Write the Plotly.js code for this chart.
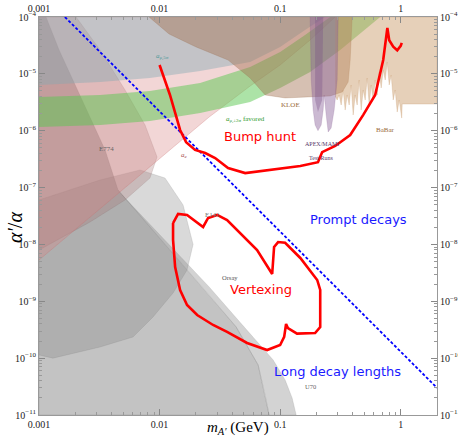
<!DOCTYPE html>
<html><head><meta charset="utf-8">
<script src="https://cdn.plot.ly/plotly-3.0.1.min.js"></script>
<style>html,body{margin:0;padding:0;background:#fff}#chart{width:458px;height:437px}</style>
</head><body><div id="chart"></div>
<script>
// ---- axis ticks ----
const xTickVals = [0.001, 0.01, 0.1, 1];
const xTickText = ['0.001', '0.01', '0.1', '1'];
const yTickVals = [1e-11, 1e-10, 1e-9, 1e-8, 1e-7, 1e-6, 1e-5, 1e-4];
const yTickText = ['10<sup>−11</sup>','10<sup>−10</sup>','10<sup>−9</sup>','10<sup>−8</sup>','10<sup>−7</sup>','10<sup>−6</sup>','10<sup>−5</sup>','10<sup>−4</sup>'];

// ---- red reach curves ----
const bumpMass  = [0.01,0.0122,0.0148,0.0166,0.0197,0.0239,0.0289,0.0370,0.0513,0.0841,0.147,0.206,0.223,0.286,0.381,0.489,0.614,0.716,0.759,0.775,0.803,0.867,0.936,1.0,1.02];
const bumpAlpha = [1.43e-5,4.25e-6,1.03e-6,6.3e-7,4.6e-7,4.05e-7,3.3e-7,2.2e-7,1.8e-7,2.04e-7,2.4e-7,2.8e-7,4.2e-7,5.4e-7,8.4e-7,1.9e-6,4.25e-6,1.75e-5,4.8e-5,6.4e-5,3.9e-5,3.0e-5,2.6e-5,3.1e-5,3.5e-5];

const vtxMass  = [0.01294,0.01424,0.0169,0.02297,0.02526,0.0300,0.0363,0.0644,0.0859,0.0891,0.0962,0.110,0.147,0.203,0.215,0.215,0.195,0.138,0.116,0.112,0.108,0.1,0.078,0.0532,0.0363,0.0278,0.0205,0.0169,0.0148,0.01346,0.01294,0.01294];
const vtxAlpha = [2.38e-8,3.43e-8,3.3e-8,2.03e-8,2.92e-8,3.3e-8,2.69e-8,7.98e-9,3.02e-9,9.0e-9,1.1e-8,1.07e-8,5.78e-9,2.37e-9,1.58e-9,3.53e-10,2.77e-10,2.7e-10,3.39e-10,3.99e-10,2.36e-10,1.70e-10,1.39e-10,1.85e-10,2.89e-10,3.83e-10,5.74e-10,8.6e-10,1.58e-9,4.0e-9,1.2e-8,2.38e-8];

// ---- prompt / long-lived boundary ----
const promptMass  = [0.00164, 2.0];
const promptAlpha = [1e-4, 3.0e-11];

// ---- excluded regions ----
const e137Mass  = [0.001143,0.001466,0.002275,0.00353,0.00452,0.02576,0.0432,0.0657,0.0751,0.0810,0.001,0.001];
const e137Alpha = [1e-4,2.63e-5,3.47e-6,4.58e-7,9.07e-8,1.29e-9,3.53e-10,7.58e-11,2.25e-11,1e-11,1e-11,1e-4];

const u70Mass  = [0.00489,0.02576,0.0503,0.0875,0.110,0.1257,0.1358,0.0810,0.0751,0.0657,0.0432,0.02576,0.00452];
const u70Alpha = [7.4e-8,1.79e-9,3.53e-10,9.29e-11,4.13e-11,2.0e-11,1e-11,1e-11,2.25e-11,7.58e-11,3.53e-10,1.29e-9,9.07e-8];

const e141Mass  = [0.001,0.00321,0.00689,0.0111,0.01567,0.01897,0.0169,0.01294,0.00883,0.00603,0.00321,0.001306,0.001];
const e141Alpha = [6.05e-8,1.36e-7,2.04e-7,1.47e-7,4.94e-8,1e-8,3.55e-9,1.4e-9,5.3e-10,2.36e-10,1.57e-10,1e-10,1.14e-10];

const e774Mass  = [0.00203,0.00321,0.00517,0.00758,0.00953,0.00832,0.00517,0.00265,0.001,0.001];
const e774Alpha = [1e-4,2.63e-5,5.2e-6,1.26e-6,3.45e-7,1.47e-7,6.05e-8,2.48e-8,7.98e-9,1e-4];

const aeMass  = [0.001,0.02576,0.0564,0.1,0.1774,0.286,0.001];
const aeAlpha = [5.33e-9,1.74e-6,6.1e-6,1.43e-5,3.94e-5,1e-4,1e-4];

const amu5Mass  = [0.001,0.00321,0.00832,0.0217,0.0564,0.1,0.161,0.236,0.001];
const amu5Alpha = [6.37e-6,7.19e-6,8.45e-6,1.12e-5,1.62e-5,2.97e-5,5.9e-5,1e-4,1e-4];

const amuFavMass  = [0.001,0.00321,0.00832,0.0217,0.0564,0.1,0.161,0.236,0.26,0.676,0.315,0.1774,0.1,0.0564,0.0217,0.00832,0.00321,0.001];
const amuFavAlpha = [3.92e-6,4.25e-6,5.0e-6,6.9e-6,1.32e-5,2.42e-5,4.83e-5,8.85e-5,1e-4,1e-4,2.63e-5,1.08e-5,5.64e-6,3.2e-6,2.05e-6,1.48e-6,1.26e-6,1.16e-6];

const kloeMass  = [0.00818,0.0120,0.0201,0.0370,0.0564,0.0751,0.110,0.1613,0.260,0.327,0.3666,0.381,0.3958];
const kloeAlpha = [1e-4,5.02e-5,2.97e-5,1.75e-5,8.45e-6,4.25e-6,3.77e-6,3.92e-6,4.08e-6,4.8e-6,7.19e-6,1.75e-5,1e-4];

const babarMass  = [0.2861,2.0,2.0,1.029,1.0193,0.9718,0.9354,0.9004,0.8666,0.8341,0.8028,0.7727,0.7438,0.7159,0.6890,0.6632,0.6383,0.6143,0.5912,0.5691,0.5477,0.5272,0.5074,0.4884,0.4701,0.4524,0.4355,0.4191,0.4034,0.3883,0.3737,0.3597,0.3463,0.3333,0.3208,0.3087,0.2972,0.2861];
const babarAlpha = [1e-4,1e-4,2.95e-6,2.95e-6,1.67e-6,3.47e-6,2.13e-6,5.2e-6,3.47e-6,9.55e-6,6.37e-6,1.62e-5,7.8e-6,1.17e-5,5.64e-6,1.08e-5,4.25e-6,7.8e-6,3.47e-6,6.37e-6,2.83e-6,8.45e-6,3.47e-6,5.2e-6,2.31e-6,7.8e-6,2.83e-6,4.25e-6,1.89e-6,6.37e-6,2.83e-6,4.25e-6,2.31e-6,5.2e-6,2.83e-6,4.25e-6,3.47e-6,4.08e-6];

const mamiMass  = [0.1774,0.181,0.1878,0.195,0.206,0.219,0.2275,0.232,0.2409,0.2503,0.265,0.2807,0.2972,0.3030];
const mamiAlpha = [1e-4,7.8e-6,2.31e-6,1.26e-6,1.0e-6,1.26e-6,2.31e-6,4.25e-6,1.89e-6,9.5e-7,1.12e-6,2.31e-6,7.8e-6,1e-4];

const apexMass  = [0.195,0.195,0.206,0.223,0.2275];
const apexAlpha = [1e-4,3.47e-6,2.13e-6,3.47e-6,1e-4];

// ---- labels ----
const labelText = ['Bump hunt','Vertexing','Prompt decays','Long decay lengths'];
const labelMass = [0.0683, 0.0695, 0.444, 0.297];
const labelAlpha = [7.8e-7, 1.64e-9, 2.69e-8, 5.94e-11];
const labelColor = ['#ff0000','#ff0000','#1a1aff','#1a1aff'];

const tagText  = ['<i>a</i><sub>μ,5σ</sub>','<i>a</i><sub>μ,±2σ</sub> favored','<i>a<sub>e</sub></i>','E774','E141','Orsay','U70','KLOE','BaBar','APEX/MAMI','Test Runs'];
const tagMass  = [0.0105, 0.0513, 0.0160, 0.00366, 0.0273, 0.0385, 0.1774, 0.121, 0.743, 0.223, 0.219];
const tagAlpha = [1.98e-5, 1.55e-6, 3.74e-7, 4.78e-7, 3.3e-8, 2.67e-9, 3.11e-11, 2.83e-6, 1.03e-6, 5.83e-7, 3.31e-7];
const tagColor = ['#4f9a9a','#2f9a2f','#a85050','#666','#777','#555','#666','#9a6a3a','#9a6a3a','#5a3a6a','#5a3a6a'];
const tagSize  = [7, 7, 7, 7, 7, 6.5, 6.5, 7, 7, 6, 6];

function region(xs, ys, fill, edge) {
  return {x: xs, y: ys, type: 'scatter', mode: 'lines', fill: 'toself', fillcolor: fill,
          line: {color: edge || 'rgba(0,0,0,0)', width: 0.6}, hoverinfo: 'skip', showlegend: false};
}

const traces = [
  region(e137Mass, e137Alpha, 'rgba(145,145,145,0.55)', 'rgba(120,120,120,0.4)'),
  region(u70Mass, u70Alpha, 'rgba(150,150,150,0.42)', 'rgba(120,120,120,0.3)'),
  region(e141Mass, e141Alpha, 'rgba(130,130,130,0.3)', 'rgba(120,120,120,0.3)'),
  region(e774Mass, e774Alpha, 'rgba(165,115,115,0.3)', 'rgba(130,100,100,0.3)'),
  region(aeMass, aeAlpha, 'rgba(215,130,130,0.33)', 'rgba(200,110,110,0.5)'),
  region(amu5Mass, amu5Alpha, 'rgba(130,170,178,0.42)', 'rgba(0,0,0,0)'),
  region(amuFavMass, amuFavAlpha, 'rgba(90,200,80,0.5)', 'rgba(0,0,0,0)'),
  region(kloeMass, kloeAlpha, 'rgba(165,115,85,0.45)', 'rgba(150,100,70,0.4)'),
  region(babarMass, babarAlpha, 'rgba(200,150,100,0.45)', 'rgba(190,140,90,0.4)'),
  region(mamiMass, mamiAlpha, 'rgba(140,100,155,0.45)', 'rgba(120,80,135,0.3)'),
  region(apexMass, apexAlpha, 'rgba(120,80,135,0.35)', 'rgba(0,0,0,0)'),
  {x: promptMass, y: promptAlpha, type: 'scatter', mode: 'lines', line: {color: '#0000ff', width: 1.8, dash: '3px,2px'}, hoverinfo: 'skip', showlegend: false},
  {x: bumpMass, y: bumpAlpha, type: 'scatter', mode: 'lines', line: {color: '#ff0000', width: 2.6}, hoverinfo: 'skip', showlegend: false},
  {x: vtxMass, y: vtxAlpha, type: 'scatter', mode: 'lines', line: {color: '#ff0000', width: 2.6}, hoverinfo: 'skip', showlegend: false},
  {x: [0.01], y: [1e-8], xaxis: 'x2', yaxis: 'y2', type: 'scatter', mode: 'markers', marker: {opacity: 0}, hoverinfo: 'skip', showlegend: false}
];

const minorX = [], minorY = [];
for (let d = -3; d <= 0; d++) for (let k = 2; k <= 9; k++) minorX.push(k * Math.pow(10, d));
minorX.push(2);
for (let d = -11; d <= -5; d++) for (let k = 2; k <= 9; k++) minorY.push(k * Math.pow(10, d));

const tickFont = {family: 'Liberation Serif', size: 10, color: '#222'};
function xAxis(side, extra) {
  return Object.assign({type: 'log', range: [-3, Math.log10(2)], side: side, tickmode: 'array',
    tickvals: xTickVals, ticktext: xTickText, ticks: 'inside', ticklen: 6, tickcolor: '#888', tickwidth: 1,
    minor: {tickmode: 'array', tickvals: minorX, ticks: 'inside', ticklen: 3, tickcolor: '#999', showgrid: false},
    showline: true, linecolor: '#999', linewidth: 1, showgrid: false, zeroline: false, tickfont: tickFont}, extra || {});
}
function yAxis(side, extra) {
  return Object.assign({type: 'log', range: [-11, -4], side: side, tickmode: 'array',
    tickvals: yTickVals, ticktext: yTickText, ticks: 'inside', ticklen: 6, tickcolor: '#888', tickwidth: 1,
    minor: {tickmode: 'array', tickvals: minorY, ticks: 'inside', ticklen: 3, tickcolor: '#999', showgrid: false},
    showline: true, linecolor: '#999', linewidth: 1, showgrid: false, zeroline: false, tickfont: tickFont}, extra || {});
}

const annotations = [];
labelText.forEach((t, i) => annotations.push({x: Math.log10(labelMass[i]), y: Math.log10(labelAlpha[i]), xref: 'x', yref: 'y',
  xanchor: 'center', yanchor: 'middle', text: t, showarrow: false, font: {family: 'DejaVu Sans', size: 13, color: labelColor[i]}}));
tagText.forEach((t, i) => annotations.push({x: Math.log10(tagMass[i]), y: Math.log10(tagAlpha[i]), xref: 'x', yref: 'y',
  xanchor: 'center', yanchor: 'middle', text: t, showarrow: false, font: {family: 'Liberation Serif', size: tagSize[i], color: tagColor[i]}}));
annotations.push({x: 0.5, y: -0.033, xref: 'paper', yref: 'paper', xanchor: 'center', yanchor: 'middle', showarrow: false,
  text: '<i>m</i><sub><i>A′</i></sub> (GeV)', font: {family: 'Liberation Serif', size: 15, color: '#000'}});
annotations.push({x: -0.06, y: 0.47, xref: 'paper', yref: 'paper', xanchor: 'center', yanchor: 'middle', textangle: -90, showarrow: false,
  text: '<i>α′</i>/<i>α</i>', font: {family: 'Liberation Serif', size: 20, color: '#000'}});

const layout = {
  width: 458, height: 437,
  margin: {l: 39, r: 21, t: 17, b: 22},
  paper_bgcolor: '#fff', plot_bgcolor: '#fff',
  showlegend: false,
  xaxis: xAxis('bottom'),
  xaxis2: xAxis('top', {overlaying: 'x', anchor: 'y'}),
  yaxis: yAxis('left'),
  yaxis2: yAxis('right', {overlaying: 'y', anchor: 'x'}),
  annotations: annotations
};

Plotly.newPlot('chart', traces, layout, {displayModeBar: false, staticPlot: true});
</script></body></html>
